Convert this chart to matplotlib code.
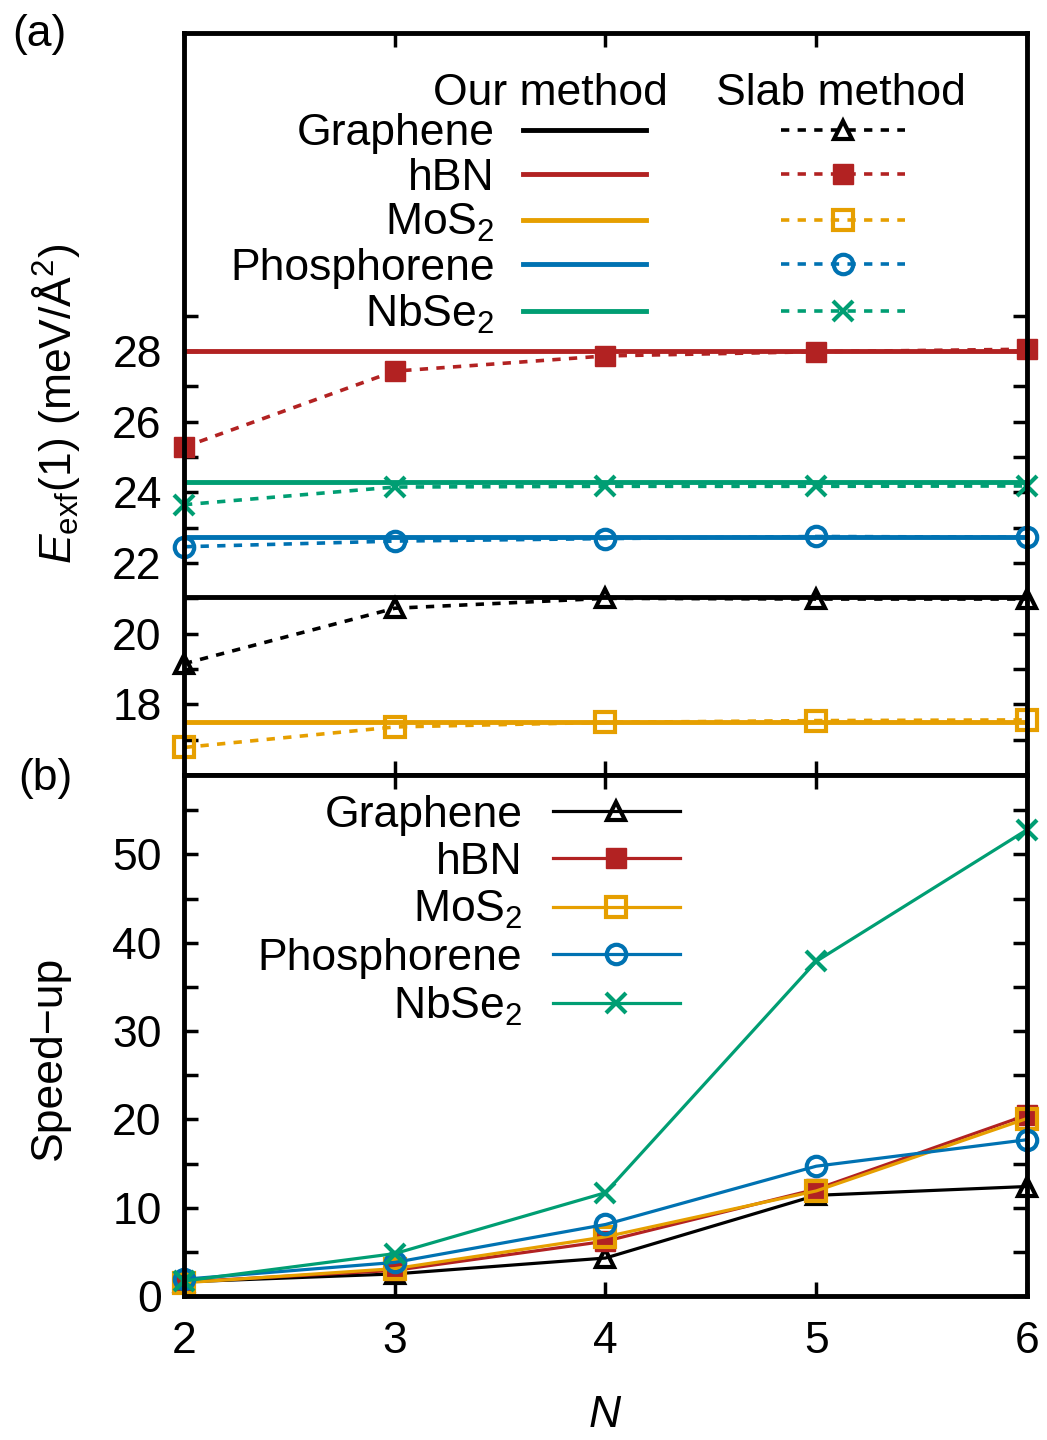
import matplotlib
matplotlib.use('Agg')
import matplotlib.pyplot as plt
from matplotlib.legend_handler import HandlerTuple
from matplotlib.ticker import FixedLocator

# layer count N
n_layers = [2, 3, 4, 5, 6]
materials = ['Graphene', 'hBN', r'MoS$_2$', 'Phosphorene', r'NbSe$_2$']

# (a) exfoliation energy, meV/A^2
our_method = [21.05, 28.0, 17.5, 22.73, 24.29]
slab_graphene = [19.15, 20.72, 21.0, 20.98, 20.98]
slab_hbn = [25.28, 27.43, 27.86, 27.98, 28.05]
slab_mos2 = [16.78, 17.36, 17.49, 17.54, 17.56]
slab_phos = [22.46, 22.62, 22.69, 22.75, 22.73]
slab_nbse2 = [23.65, 24.15, 24.17, 24.17, 24.18]

# (b) speed-up
speed_graphene = [1.6, 2.5, 4.3, 11.4, 12.4]
speed_hbn = [1.6, 2.9, 6.2, 12.1, 20.5]
speed_mos2 = [1.5, 3.1, 6.7, 11.9, 20.1]
speed_phos = [1.9, 3.8, 8.1, 14.7, 17.7]
speed_nbse2 = [1.7, 4.8, 11.7, 37.9, 52.8]

slab_all = [slab_graphene, slab_hbn, slab_mos2, slab_phos, slab_nbse2]
speed_all = [speed_graphene, speed_hbn, speed_mos2, speed_phos, speed_nbse2]

colors = ['black', '#b22222', '#e69f00', '#0072b2', '#009e73']
markers = ['^', 's', 's', 'o', 'x']
filled = [False, True, False, False, False]
msizes = [13, 14, 14, 14, 14]

plt.rcParams['font.family'] = ['Liberation Sans', 'DejaVu Sans']
plt.rcParams['mathtext.fontset'] = 'custom'
plt.rcParams['mathtext.rm'] = 'Liberation Sans'
plt.rcParams['mathtext.it'] = 'Liberation Sans:italic'
plt.rcParams['mathtext.bf'] = 'Liberation Sans:bold'

fs = 32

fig = plt.figure(figsize=(10.47, 14.4), dpi=100)
ax1 = fig.add_axes([0.1757, 0.4618, 0.8052, 0.5153])
ax2 = fig.add_axes([0.1757, 0.1, 0.8052, 0.3618])


def marker_style(i):
    st = dict(marker=markers[i], ms=msizes[i], mec=colors[i], mew=3)
    st['mfc'] = colors[i] if filled[i] else 'none'
    if filled[i]:
        st['mew'] = 1
    return st


# ---- panel (a)
handles_a = []
for i in range(len(materials)):
    h_our = ax1.axhline(our_method[i], color=colors[i], lw=3.5, zorder=2)
    h_slab, = ax1.plot(n_layers, slab_all[i], color=colors[i], lw=2.6,
                       ls=(0, (2.3, 2.3)), clip_on=False, zorder=3,
                       **marker_style(i))
    handles_a.append((h_our, h_slab))

ax1.set_xlim(2, 6)
ax1.set_ylim(16, 37)
ax1.xaxis.set_major_locator(FixedLocator(n_layers))
ax1.yaxis.set_major_locator(FixedLocator([18, 20, 22, 24, 26, 28]))
ax1.yaxis.set_minor_locator(FixedLocator([17, 19, 21, 23, 25, 27, 29]))
ax1.tick_params(axis='x', labelbottom=False)
ax1.set_ylabel(r'$E_{\mathrm{exf}}$(1) (meV/Å$^2$)', fontsize=fs)
ax1.yaxis.set_label_coords(-0.121, 0.5)

ax1.legend(handles_a, materials, loc='upper right',
           bbox_to_anchor=(0.855, 0.892), frameon=False, fontsize=fs,
           markerfirst=False, handlelength=8.6, handletextpad=0.63,
           labelspacing=0.08, borderpad=0, borderaxespad=0,
           handler_map={tuple: HandlerTuple(ndivide=None, pad=3.05)})
ax1.text(0.574, 0.919, 'Our method', transform=ax1.transAxes, fontsize=fs,
         ha='right', va='center')
ax1.text(0.779, 0.919, 'Slab method', transform=ax1.transAxes, fontsize=fs,
         ha='center', va='center')

# ---- panel (b)
handles_b = []
for i in range(len(materials)):
    h, = ax2.plot(n_layers, speed_all[i], color=colors[i], lw=2.3,
                  clip_on=False, zorder=3, **marker_style(i))
    handles_b.append(h)

ax2.set_xlim(2, 6)
ax2.set_ylim(0, 59)
ax2.xaxis.set_major_locator(FixedLocator(n_layers))
ax2.yaxis.set_major_locator(FixedLocator([0, 10, 20, 30, 40, 50]))
ax2.yaxis.set_minor_locator(FixedLocator([5, 15, 25, 35, 45, 55]))
ax2.set_ylabel('Speed\u2212up', fontsize=fs)
ax2.yaxis.set_label_coords(-0.135, 0.457)
ax2.set_xlabel('$N$', fontsize=fs)
ax2.xaxis.set_label_coords(0.5, -0.19)

ax2.legend(handles_b, materials, loc='upper right',
           bbox_to_anchor=(0.588, 0.962), frameon=False, fontsize=fs,
           markerfirst=False, handlelength=2.86, handletextpad=0.68,
           labelspacing=0.14, borderpad=0, borderaxespad=0)

for ax in (ax1, ax2):
    for sp in ax.spines.values():
        sp.set_linewidth(3.5)
        sp.set_zorder(5)
    ax.tick_params(which='both', direction='in', top=True, right=True,
                   length=10, width=2.5, labelsize=fs)
    ax.tick_params(axis='x', pad=18)
    ax.tick_params(axis='y', pad=16)

fig.text(0.038, 0.9757, '(a)', fontsize=fs, ha='center', va='center')
fig.text(0.043, 0.4597, '(b)', fontsize=fs, ha='center', va='center')

fig.savefig('out.png', dpi=100)
